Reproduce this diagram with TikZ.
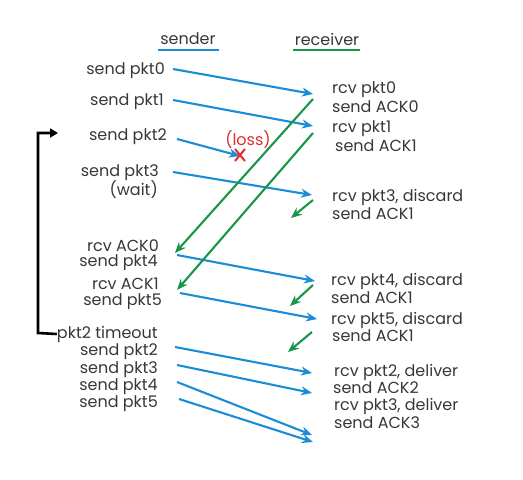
\documentclass[tikz,border=0pt]{standalone}
\usepackage{fontspec}
\setmainfont{Poppins}
\usepackage{tikz}
\usetikzlibrary{arrows.meta,positioning,calc}
\definecolor{pktblue}{RGB}{28,140,215}
\definecolor{ackgreen}{RGB}{22,150,70}
\definecolor{lossred}{RGB}{225,45,45}
\definecolor{txtgray}{RGB}{55,55,55}

\begin{document}
\begin{tikzpicture}[x=1pt,y=-1pt,
	lbl/.style={text=txtgray,font=\fontsize{16}{18}\selectfont,inner sep=0pt},
	pkt/.style={draw=pktblue,line width=2.1pt,-{Stealth[length=11pt,width=9pt]}},
	ack/.style={draw=ackgreen,line width=2.1pt,-{Stealth[length=11pt,width=9pt]}}]
		\useasboundingbox (0,0) rectangle (523,480);
		% column heads
		\node [lbl] (snd) at (188,39) {sender};
		\node [lbl] (rcv) at (327,39) {receiver};
		\draw [pktblue,line width=2pt] (158,50)--(219,50);
		\draw [ackgreen,line width=2pt] (293,50)--(360,50);
		% sender side
		\node [lbl,anchor=east] (s0) at (165,71) {send pkt0};
		\node [lbl,anchor=east] (s1) at (164,102) {send pkt1};
		\node [lbl,anchor=east] (s2) at (167,137) {send pkt2};
		\node [lbl,anchor=east] (s3) at (159,173) {send pkt3};
		\node [lbl,anchor=east] (w3) at (158,190) {(wait)};
		\node [lbl,anchor=east] (ra0) at (159,246) {rcv ACK0};
		\node [lbl,anchor=east] (s4) at (158,263) {send pkt4};
		\node [lbl,anchor=east] (ra1) at (159,284) {rcv ACK1};
		\node [lbl,anchor=east] (s5) at (162,302) {send pkt5};
		\node [lbl,anchor=east] (to) at (158,334) {pkt2 timeout};
		\node [lbl,anchor=east] (t2) at (158,352) {send pkt2};
		\node [lbl,anchor=east] (t3) at (158,370) {send pkt3};
		\node [lbl,anchor=east] (t4) at (158,387) {send pkt4};
		\node [lbl,anchor=east] (t5) at (158,404) {send pkt5};
		% receiver side
		\node [lbl,anchor=west] (r0) at (332,90) {rcv pkt0};
		\node [lbl,anchor=west] (k0) at (332,107) {send ACK0};
		\node [lbl,anchor=west] (r1) at (332,129) {rcv pkt1};
		\node [lbl,anchor=west] (k1) at (335,146) {send ACK1};
		\node [lbl,anchor=west] (r3) at (332,197) {rcv pkt3, discard};
		\node [lbl,anchor=west] (k3) at (332,214) {send ACK1};
		\node [lbl,anchor=west] (r4) at (331,281) {rcv pkt4, discard};
		\node [lbl,anchor=west] (k4) at (331,298) {send ACK1};
		\node [lbl,anchor=west] (r5) at (331,320) {rcv pkt5, discard};
		\node [lbl,anchor=west] (k5) at (332,336) {send ACK1};
		\node [lbl,anchor=west] (d2) at (334,372) {rcv pkt2, deliver};
		\node [lbl,anchor=west] (e2) at (333,388) {send ACK2};
		\node [lbl,anchor=west] (d3) at (334,406) {rcv pkt3, deliver};
		\node [lbl,anchor=west] (e3) at (334,423) {send ACK3};
		% arrow ends
		\coordinate (a0) at (173,69);   \coordinate (b0) at (313,94);
		\coordinate (a1) at (173,100);  \coordinate (b1) at (313,126);
		\coordinate (a2) at (177,139);  \coordinate (b2) at (240,156);
		\coordinate (a3) at (173,172);  \coordinate (b3) at (312,195);
		\coordinate (a4) at (177,255);  \coordinate (b4) at (315,281);
		\coordinate (a5) at (180,293);  \coordinate (b5) at (317,319);
		\coordinate (c2) at (175,347);  \coordinate (e22) at (312,373);
		\coordinate (c3) at (177,365);  \coordinate (e33) at (312,393);
		\coordinate (c4) at (177,382);  \coordinate (e44) at (312,435);
		\coordinate (c5) at (179,399);  \coordinate (e55) at (313,442);
		\coordinate (g0) at (313,99);   \coordinate (h0) at (175,253);
		\coordinate (g1) at (313,133);  \coordinate (h1) at (177,290);
		\coordinate (g3) at (313,200);  \coordinate (h3) at (291,218);
		\coordinate (g4) at (313,285);  \coordinate (h4) at (290,306);
		\coordinate (g5) at (312,332);  \coordinate (h5) at (288,352);
		% packets
		\draw [pkt] (a0)--(b0);
		\draw [pkt] (a1)--(b1);
		\draw [pkt] (a2)--(b2);
		\draw [pkt] (a3)--(b3);
		\draw [pkt] (a4)--(b4);
		\draw [pkt] (a5)--(b5);
		\draw [pkt] (c2)--(e22);
		\draw [pkt] (c3)--(e33);
		\draw [pkt] (c4)--(e44);
		\draw [pkt] (c5)--(e55);
		% acks
		\draw [ack] (g0)--(h0);
		\draw [ack] (g1)--(h1);
		\draw [ack] (g3)--(h3);
		\draw [ack] (g4)--(h4);
		\draw [ack] (g5)--(h5);
		% loss
		\node [text=lossred,font=\fontsize{16}{18}\selectfont,inner sep=0pt] (loss) at (248,140) {(loss)};
		\draw [lossred,line width=2pt] (235,149)--(245,161) (245,149)--(235,161);
		% timeout bracket
		\coordinate (tb) at (38,333);
		\coordinate (tt) at (38,133);
		\draw [black,line width=2.6pt,-{Triangle[length=8pt,width=9pt]}] (to.west)--(tb)--(tt)--(58,133);
\end{tikzpicture}
\end{document}
